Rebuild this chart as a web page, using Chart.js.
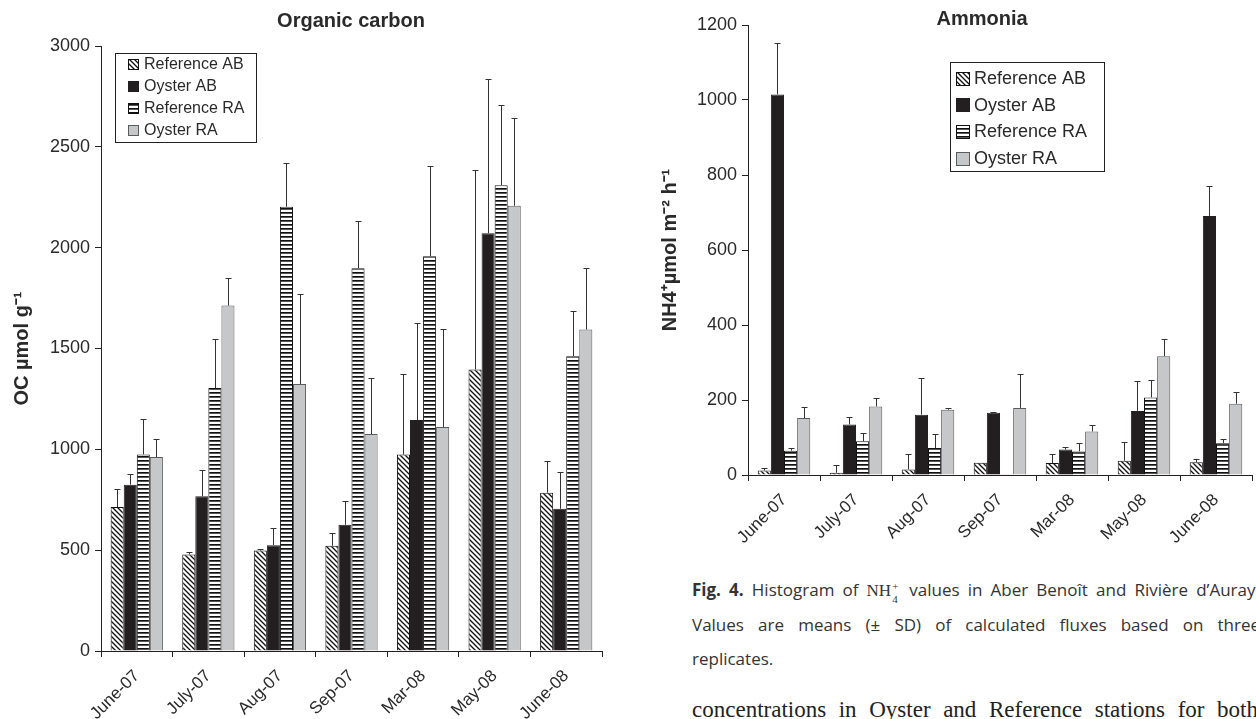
<!DOCTYPE html>
<html>
<head>
<meta charset="utf-8">
<script src="https://cdn.jsdelivr.net/npm/chart.js@4.4.0/dist/chart.umd.min.js"></script>
<style>
  html, body { margin: 0; padding: 0; background: #fff; }
  body { width: 1256px; height: 719px; position: relative; overflow: hidden; }
  #ocChart { position: absolute; left: 0; top: 0; }
  #nhChart { position: absolute; left: 640px; top: 0; }
  .cap {
    position: absolute; left: 692px; width: 568px;
    font-family: 'Open Sans', 'Noto Sans', sans-serif; font-size: 17px; color: #333;
    line-height: 22px; white-space: nowrap;
  }
  .just { text-align: justify; text-align-last: justify; white-space: normal; }
  .cap b { font-weight: 700; }
  .ser { font-family: 'Liberation Serif', serif; font-size: 17px; }
  .ss { display: inline-block; position: relative; width: 8px; height: 10px; margin-right: 2px;
        font-family: 'Liberation Serif', serif; font-size: 11px; line-height: 11px; }
  .ss span { position: absolute; left: 1px; }
  .ss .up { top: -5px; }
  .ss .dn { top: 8px; }
  .body {
    position: absolute; left: 692px; width: 566px; top: 697px;
    font-family: 'Liberation Serif', serif; font-size: 23px; color: #222; line-height: 26px;
    text-align: justify; text-align-last: justify;
  }
</style>
</head>
<body>
<canvas id="ocChart" width="620" height="719"></canvas>
<canvas id="nhChart" width="616" height="560"></canvas>

<div class="cap just" style="top:579px"><b>Fig. 4.</b> Histogram of <span class="ser">NH</span><span class="ss"><span class="up">+</span><span class="dn">4</span></span> values in Aber Benoît and Rivière d’Auray.</div>
<div class="cap just" style="top:614px">Values are means (± SD) of calculated fluxes based on three</div>
<div class="cap" style="top:648px">replicates.</div>
<div class="body">concentrations in Oyster and Reference stations for both</div>

<script>
// Shared categories / series names
const months = ['June-07', 'July-07', 'Aug-07', 'Sep-07', 'Mar-08', 'May-08', 'June-08'];
const seriesNames = ['Reference AB', 'Oyster AB', 'Reference RA', 'Oyster RA'];

// Organic carbon (umol g-1): means and SD
const ocRefAB = [714, 479, 498, 522, 974, 1396, 785];
const ocOysAB = [825, 767, 525, 626, 1145, 2072, 705];
const ocRefRA = [975, 1304, 2203, 1898, 1957, 2310, 1462];
const ocOysRA = [962, 1713, 1324, 1076, 1111, 2208, 1594];
const ocRefABsd = [88, 13, 9, 62, 402, 988, 155];
const ocOysABsd = [53, 132, 84, 117, 480, 764, 185];
const ocRefRAsd = [177, 242, 219, 234, 446, 398, 226];
const ocOysRAsd = [91, 138, 445, 280, 485, 434, 303];
const ocTicks = [0, 500, 1000, 1500, 2000, 2500, 3000];

// Ammonia fluxes (umol m-2 h-1): means and SD
const nhRefAB = [12, 6, 15, 33, 32, 38, 34];
const nhOysAB = [1015, 135, 161, 166, 68, 171, 691];
const nhRefRA = [65, 90, 72, 2, 63, 207, 85];
const nhOysRA = [152, 183, 174, 179, 116, 317, 190];
const nhRefABsd = [6, 22, 40, 0, 23, 50, 10];
const nhOysABsd = [138, 21, 99, 2, 6, 80, 80];
const nhRefRAsd = [7, 22, 38, 0, 22, 46, 12];
const nhOysRAsd = [30, 23, 6, 91, 17, 47, 31];
const nhTicks = [0, 200, 400, 600, 800, 1000, 1200];

const FONT = "'Liberation Sans', Arial, sans-serif";
const INK = '#2a2a2a';
Chart.defaults.font.family = FONT;
Chart.defaults.color = INK;

// Fill patterns
function diagPattern(ctx) {
    const s = 5;
    const c = document.createElement('canvas');
    c.width = s; c.height = s;
    const g = c.getContext('2d');
    g.fillStyle = '#fff';
    g.fillRect(0, 0, s, s);
    g.strokeStyle = '#111';
    g.lineWidth = 1.3;
    g.beginPath();
    g.moveTo(-1, -1); g.lineTo(s + 1, s + 1);
    g.moveTo(-1, s - 1); g.lineTo(1, s + 1);
    g.moveTo(s - 1, -1); g.lineTo(s + 1, 1);
    g.stroke();
    return ctx.createPattern(c, 'repeat');
}

function stripePattern(ctx) {
    const c = document.createElement('canvas');
    c.width = 4; c.height = 4;
    const g = c.getContext('2d');
    g.fillStyle = '#fff';
    g.fillRect(0, 0, 4, 4);
    g.fillStyle = '#111';
    g.fillRect(0, 0, 4, 1.7);
    return ctx.createPattern(c, 'repeat');
}

// Upper error bars from each dataset's sd array
const errorBars = {
    id: 'errorBars',
    afterDatasetsDraw(chart) {
        const ctx = chart.ctx;
        const y = chart.scales.y;
        ctx.save();
        ctx.strokeStyle = '#333';
        ctx.lineWidth = 1;
        chart.data.datasets.forEach((ds, i) => {
            const meta = chart.getDatasetMeta(i);
            meta.data.forEach((bar, j) => {
                const sd = ds.sd[j];
                if (!sd) return;
                const x = Math.round(bar.x) + 0.5;
                const top = Math.round(y.getPixelForValue(ds.data[j] + sd)) + 0.5;
                ctx.beginPath();
                ctx.moveTo(x, bar.y);
                ctx.lineTo(x, top);
                ctx.moveTo(x - 3, top);
                ctx.lineTo(x + 3, top);
                ctx.stroke();
            });
        });
        ctx.restore();
    }
};

// Boxed legend placed inside the plot
const boxLegend = {
    id: 'boxLegend',
    afterDraw(chart, args, o) {
        const ctx = chart.ctx;
        ctx.save();
        ctx.fillStyle = '#fff';
        ctx.fillRect(o.x, o.y, o.w, o.h);
        ctx.strokeStyle = '#222';
        ctx.lineWidth = 1;
        ctx.strokeRect(o.x + 0.5, o.y + 0.5, o.w, o.h);
        ctx.font = o.size + 'px ' + FONT;
        ctx.textBaseline = 'middle';
        chart.data.datasets.forEach((ds, i) => {
            const cy = o.y + o.first + i * o.row;
            const sy = Math.round(cy - o.sw / 2) + 0.5;
            ctx.fillStyle = ds.backgroundColor;
            ctx.fillRect(o.sx + 0.5, sy, o.sw, o.sw);
            ctx.strokeStyle = ds.borderColor;
            ctx.strokeRect(o.sx + 0.5, sy, o.sw, o.sw);
            ctx.fillStyle = INK;
            ctx.fillText(ds.label, o.tx, cy + 1);
        });
        ctx.restore();
    }
};

// Bold title at a fixed spot
const topTitle = {
    id: 'topTitle',
    afterDraw(chart, args, o) {
        const ctx = chart.ctx;
        ctx.save();
        ctx.font = 'bold 20px ' + FONT;
        ctx.fillStyle = INK;
        ctx.textAlign = 'center';
        ctx.textBaseline = 'middle';
        ctx.fillText(o.text, o.x, o.y);
        ctx.restore();
    }
};

function makeDatasets(ctx, values, sds) {
    const fills = [diagPattern(ctx), '#231f20', stripePattern(ctx), '#c6c7c9'];
    const borders = ['#111', '#231f20', '#111', '#5a5b5d'];
    return seriesNames.map((name, i) => ({
        label: name,
        data: values[i],
        sd: sds[i],
        backgroundColor: fills[i],
        borderColor: borders[i],
        borderWidth: 1,
        barPercentage: 1.0,
        categoryPercentage: 0.73
    }));
}

function barChart(canvasId, cfg) {
    const ctx = document.getElementById(canvasId).getContext('2d');
    return new Chart(ctx, {
        type: 'bar',
        data: {
            labels: months,
            datasets: makeDatasets(ctx, cfg.values, cfg.sds)
        },
        options: {
            responsive: false,
            animation: false,
            layout: { padding: cfg.padding },
            plugins: {
                legend: { display: false },
                tooltip: { enabled: false },
                boxLegend: cfg.legend,
                topTitle: cfg.title
            },
            scales: {
                x: {
                    grid: { offset: true, drawOnChartArea: false, tickLength: 6, color: '#222' },
                    border: { color: '#222' },
                    ticks: { autoSkip: false, minRotation: 45, maxRotation: 45, padding: 9,
                             font: { size: 17 }, color: INK },
                    afterFit: s => { s.height = cfg.xHeight; }
                },
                y: {
                    min: cfg.ticks[0],
                    max: cfg.ticks[cfg.ticks.length - 1],
                    afterBuildTicks: s => { s.ticks = cfg.ticks.map(v => ({ value: v })); },
                    grid: { drawOnChartArea: false, tickLength: 6, color: '#222' },
                    border: { color: '#222' },
                    ticks: { padding: 5, font: { size: 18 }, color: INK, callback: v => String(v) },
                    title: { display: true, text: cfg.yTitle, color: INK,
                             font: { size: 20, weight: 'bold' }, padding: { top: cfg.yTitlePad, bottom: 0 } },
                    afterFit: s => { s.width = cfg.yWidth; }
                }
            }
        },
        plugins: [errorBars, boxLegend, topTitle]
    });
}

barChart('ocChart', {
    values: [ocRefAB, ocOysAB, ocRefRA, ocOysRA],
    sds: [ocRefABsd, ocOysABsd, ocRefRAsd, ocOysRAsd],
    ticks: ocTicks,
    padding: { top: 46, right: 18, bottom: 0, left: 0 },
    yWidth: 101,
    xHeight: 68,
    yTitle: 'OC µmol g⁻¹',
    yTitlePad: 10,
    title: { text: 'Organic carbon', x: 351, y: 21 },
    legend: { x: 115, y: 53, w: 141, h: 89, first: 11, row: 22, sx: 128, sw: 10, tx: 144, size: 16 }
});

barChart('nhChart', {
    values: [nhRefAB, nhOysAB, nhRefRA, nhOysRA],
    sds: [nhRefABsd, nhOysABsd, nhRefRAsd, nhOysRAsd],
    ticks: nhTicks,
    padding: { top: 25, right: 4, bottom: 0, left: 0 },
    yWidth: 108,
    xHeight: 85,
    yTitle: 'NH4⁺µmol m⁻² h⁻¹',
    yTitlePad: 18,
    title: { text: 'Ammonia', x: 342, y: 19 },
    legend: { x: 310, y: 62, w: 154, h: 109, first: 16, row: 26.7, sx: 316, sw: 13, tx: 334, size: 18 }
});
</script>
</body>
</html>
